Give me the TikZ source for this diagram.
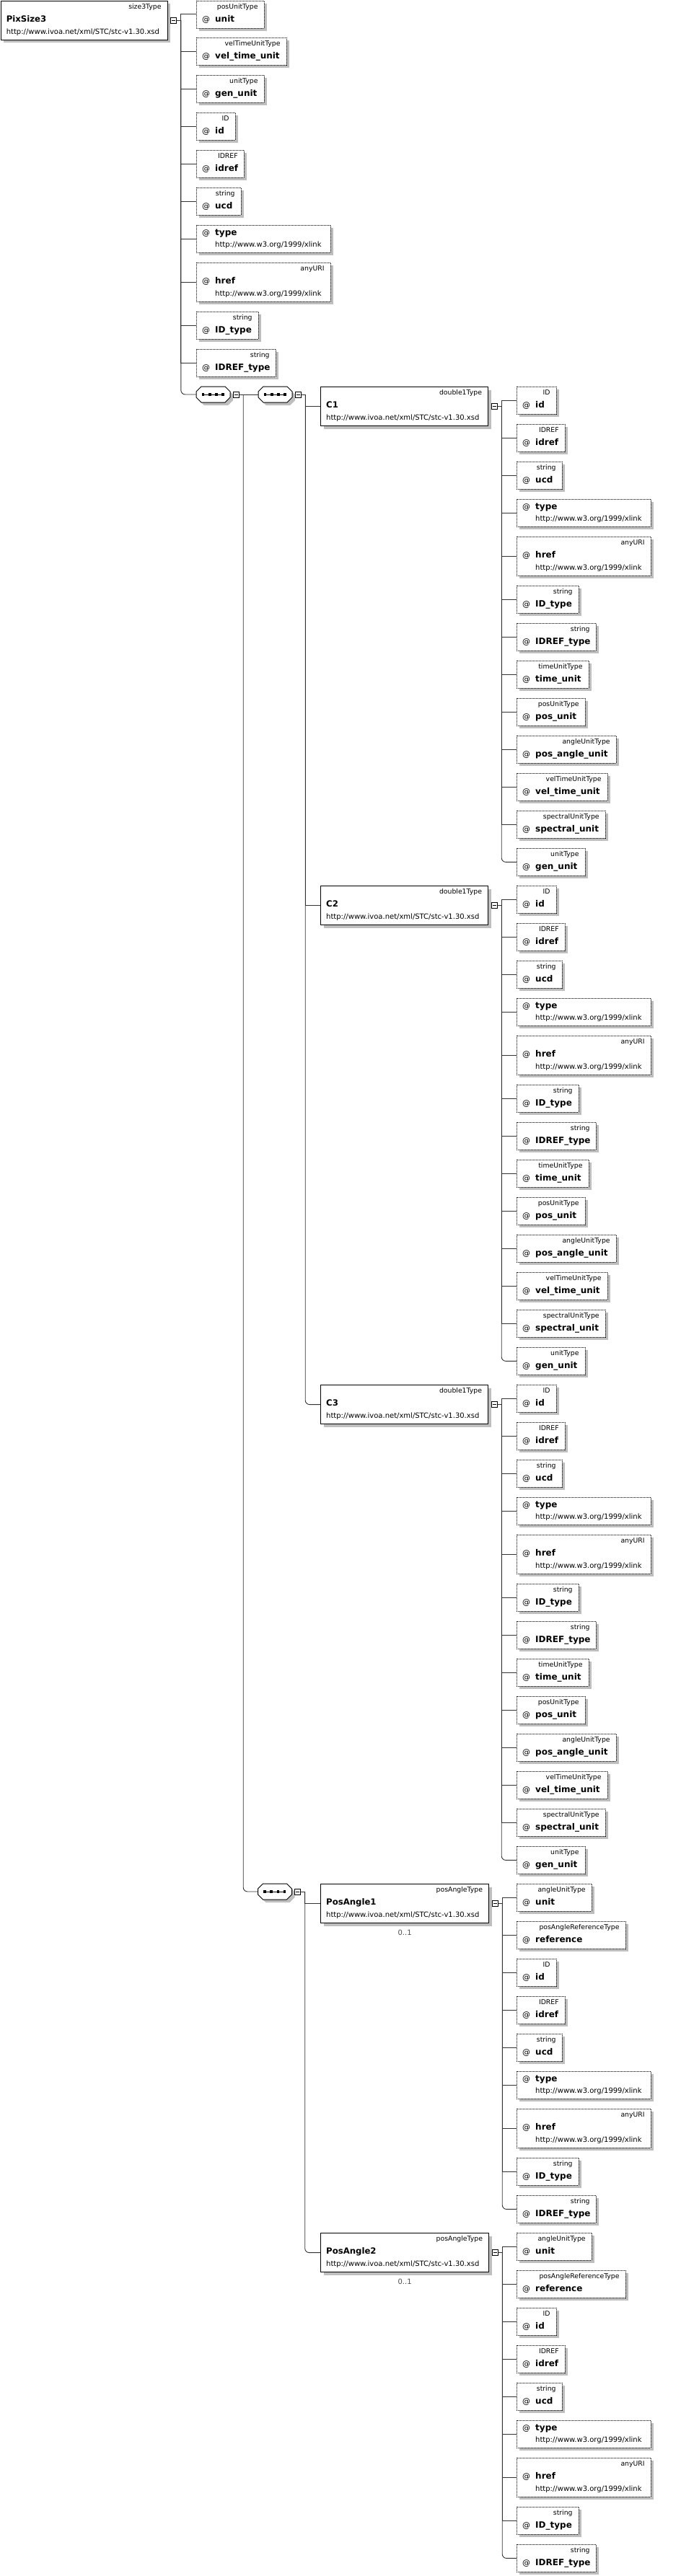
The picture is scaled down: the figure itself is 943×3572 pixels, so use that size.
\documentclass[tikz,border=0pt]{standalone}
\usepackage{fontspec}
\setmainfont{DejaVu Sans}
\usetikzlibrary{shadows}
\definecolor{shgray}{RGB}{190,190,190}
\definecolor{lncol}{RGB}{50,50,50}
\tikzset{
 shd/.style={drop shadow={shadow xshift=4pt,shadow yshift=-4pt,fill=shgray,opacity=1}},
 attrbox/.style={draw,dash pattern=on 1pt off 1pt,line width=0.8pt,fill=white,minimum height=38pt,inner sep=0pt,anchor=north west,shd},
 hrefbox/.style={attrbox,minimum height=54pt},
 elbox/.style={draw,line width=1.2pt,fill=white,minimum width=232pt,minimum height=54pt,inner sep=0pt,anchor=north west,shd},
 seqhold/.style={minimum width=47pt,minimum height=22pt,inner sep=0pt},
 minusbox/.style={draw,line width=0.7pt,fill=white,minimum size=8pt,inner sep=0pt},
 conn/.style={line width=0.9pt,draw=lncol},
 tlbl/.style={font=\fontsize{9.3}{11}\selectfont,inner sep=0pt},
 atlbl/.style={font=\fontsize{11}{13}\selectfont,inner sep=0pt},
 anlbl/.style={font=\fontsize{12}{14}\selectfont\bfseries,inner sep=0pt},
 urllbl/.style={font=\fontsize{10}{12}\selectfont,inner sep=0pt},
 elname/.style={font=\fontsize{11.7}{14}\selectfont\bfseries,inner sep=0pt},
}
% attribute with type label
\newcommand\attrN[6]{%
 \node[attrbox,minimum width=#4pt] (#1) at (#2,#3) {};
 \node[tlbl,anchor=mid east] at ([xshift=-9pt,yshift=-9pt]#1.north east) {#5};
 \node[atlbl,anchor=mid west] at ([xshift=8pt,yshift=-27pt]#1.north west) {@};
 \node[anlbl,anchor=mid west] at ([xshift=26pt,yshift=-27pt]#1.north west) {#6};
}
\newcommand\attrType[3]{%
 \node[attrbox,minimum width=186pt] (#1) at (#2,#3) {};
 \node[atlbl,anchor=mid west] at ([xshift=8pt,yshift=-12pt]#1.north west) {@};
 \node[anlbl,anchor=mid west] at ([xshift=26pt,yshift=-12pt]#1.north west) {type};
 \node[urllbl,anchor=mid west] at ([xshift=26pt,yshift=-28pt]#1.north west) {http://www.w3.org/1999/xlink};
}
\newcommand\attrHref[3]{%
 \node[hrefbox,minimum width=186pt] (#1) at (#2,#3) {};
 \node[tlbl,anchor=mid east] at ([xshift=-9pt,yshift=-9pt]#1.north east) {anyURI};
 \node[atlbl,anchor=mid west] at ([xshift=8pt,yshift=-27pt]#1.north west) {@};
 \node[anlbl,anchor=mid west] at ([xshift=26pt,yshift=-27pt]#1.north west) {href};
 \node[urllbl,anchor=mid west] at ([xshift=26pt,yshift=-44pt]#1.north west) {http://www.w3.org/1999/xlink};
}
\newcommand\ellabels[3]{%
 \node[tlbl,anchor=mid east] at ([xshift=-9pt,yshift=-9pt]#1.north east) {#2};
 \node[elname,anchor=mid west] at ([xshift=8pt,yshift=-27pt]#1.north west) {#3};
 \node[urllbl,anchor=mid west] at ([xshift=8pt,yshift=-44pt]#1.north west) {http://www.ivoa.net/xml/STC/stc-v1.30.xsd};
}
\newcommand\collapsebox[1]{%
 \node[minusbox] (#1-m) at ([xshift=8pt]#1.east) {};
 \draw[line width=0.7pt] ([xshift=-2.5pt]#1-m.center) -- ([xshift=2.5pt]#1-m.center);
 \coordinate (#1-j) at ([xshift=10pt]#1-m.center);
 \draw[conn] (#1-m.east) -- (#1-j);
}
\newcommand\seqnode[3]{%
 \begin{scope}[shift={(#2,#3)}]
  \fill[shgray,shift={(4,4)}] (-23.5,-4) -- (-16.5,-11) -- (16.5,-11) -- (23.5,-4) -- (23.5,4) -- (16.5,11) -- (-16.5,11) -- (-23.5,4) -- cycle;
  \draw[fill=white,line width=1pt] (-23.5,-4) -- (-16.5,-11) -- (16.5,-11) -- (23.5,-4) -- (23.5,4) -- (16.5,11) -- (-16.5,11) -- (-23.5,4) -- cycle;
  \draw[line width=0.8pt] (-14,0) -- (13.5,0);
  \foreach \px in {-14,-4.8,4.5,13.5} {\fill (\px-1.8,-1.8) rectangle (\px+1.8,1.8);}
 \end{scope}
 \node[seqhold] (#1) at (#2,#3) {};
}
\newcommand\Cblock[3]{%
 \node[elbox] (#1) at (444,#3) {};
 \ellabels{#1}{double1Type}{#2}
 \attrN{#1-id}{716}{#3}{55}{ID}{id}
 \attrN{#1-idref}{716}{#3+52}{67}{IDREF}{idref}
 \attrN{#1-ucd}{716}{#3+104}{63}{string}{ucd}
 \attrType{#1-type}{716}{#3+156}
 \attrHref{#1-href}{716}{#3+208}
 \attrN{#1-idt}{716}{#3+276}{86}{string}{ID\_type}
 \attrN{#1-idreft}{716}{#3+328}{110}{string}{IDREF\_type}
 \attrN{#1-tu}{716}{#3+380}{100}{timeUnitType}{time\_unit}
 \attrN{#1-pu}{716}{#3+432}{95}{posUnitType}{pos\_unit}
 \attrN{#1-pau}{716}{#3+484}{138}{angleUnitType}{pos\_angle\_unit}
 \attrN{#1-vtu}{716}{#3+536}{126}{velTimeUnitType}{vel\_time\_unit}
 \attrN{#1-su}{716}{#3+588}{123}{spectralUnitType}{spectral\_unit}
 \attrN{#1-gu}{716}{#3+640}{95}{unitType}{gen\_unit}
 \collapsebox{#1}
 \foreach \nm in {id,idref,ucd,type,href,idt,idreft,tu,pu,pau,vtu,su} {\draw[conn] (#1-j) |- (#1-\nm.west);}
 \draw[conn,rounded corners=6pt] (#1-j) |- (#1-gu.west);
}
\newcommand\PAblock[3]{%
 \node[elbox,minimum width=233pt] (#1) at (444,#3) {};
 \ellabels{#1}{posAngleType}{#2}
 \node[urllbl,text=black!70] at ([yshift=-13pt]#1.south) {0..1};
 \attrN{#1-unit}{716}{#3}{104}{angleUnitType}{unit}
 \attrN{#1-ref}{716}{#3+52}{151}{posAngleReferenceType}{reference}
 \attrN{#1-id}{716}{#3+104}{55}{ID}{id}
 \attrN{#1-idref}{716}{#3+156}{67}{IDREF}{idref}
 \attrN{#1-ucd}{716}{#3+208}{63}{string}{ucd}
 \attrType{#1-type}{716}{#3+260}
 \attrHref{#1-href}{716}{#3+312}
 \attrN{#1-idt}{716}{#3+380}{86}{string}{ID\_type}
 \attrN{#1-idreft}{716}{#3+432}{110}{string}{IDREF\_type}
 \collapsebox{#1}
 \foreach \nm in {unit,ref,id,idref,ucd,type,href,idt} {\draw[conn] (#1-j) |- (#1-\nm.west);}
 \draw[conn,rounded corners=6pt] (#1-j) |- (#1-idreft.west);
}
\begin{document}
\begin{tikzpicture}[x=1pt,y=-1pt]
\useasboundingbox (0,0) rectangle (943,3572);
% root element
\node[elbox,minimum width=231pt] (px) at (0.6,0.6) {};
\ellabels{px}{size3Type}{PixSize3}
\attrN{p-unit}{272}{0.5}{94}{posUnitType}{unit}
\attrN{p-vtu}{272}{52}{125}{velTimeUnitType}{vel\_time\_unit}
\attrN{p-gu}{272}{104}{94}{unitType}{gen\_unit}
\attrN{p-id}{272}{156}{54}{ID}{id}
\attrN{p-idref}{272}{208}{66}{IDREF}{idref}
\attrN{p-ucd}{272}{260}{62}{string}{ucd}
\attrType{p-type}{272}{312}
\attrHref{p-href}{272}{364}
\attrN{p-idt}{272}{432}{86}{string}{ID\_type}
\attrN{p-idreft}{272}{484}{110}{string}{IDREF\_type}
% sequences
\seqnode{s1}{295.5}{547}
\seqnode{s2}{381.5}{547}
\seqnode{s3}{381}{2623}
% elements
\Cblock{c1}{C1}{536}
\Cblock{c2}{C2}{1228}
\Cblock{c3}{C3}{1920}
\PAblock{pa1}{PosAngle1}{2612}
\PAblock{pa2}{PosAngle2}{3096}
% root connectors
\collapsebox{px}
\foreach \nm in {unit,vtu,gu,id,idref,ucd,type,href,idt,idreft} {\draw[conn] (px-j) |- (p-\nm.west);}
\draw[conn,rounded corners=6pt] (px-j) |- (s1.west);
% sequence 1
\collapsebox{s1}
\draw[conn] (s1-j) |- (s2.west);
\draw[conn,rounded corners=6pt] (s1-j) |- (s3.west);
% sequence 2
\collapsebox{s2}
\draw[conn] (s2-j) |- (c1.west);
\draw[conn] (s2-j) |- (c2.west);
\draw[conn,rounded corners=6pt] (s2-j) |- (c3.west);
% sequence 3
\collapsebox{s3}
\draw[conn] (s3-j) |- (pa1.west);
\draw[conn,rounded corners=6pt] (s3-j) |- (pa2.west);
\end{tikzpicture}
\end{document}
